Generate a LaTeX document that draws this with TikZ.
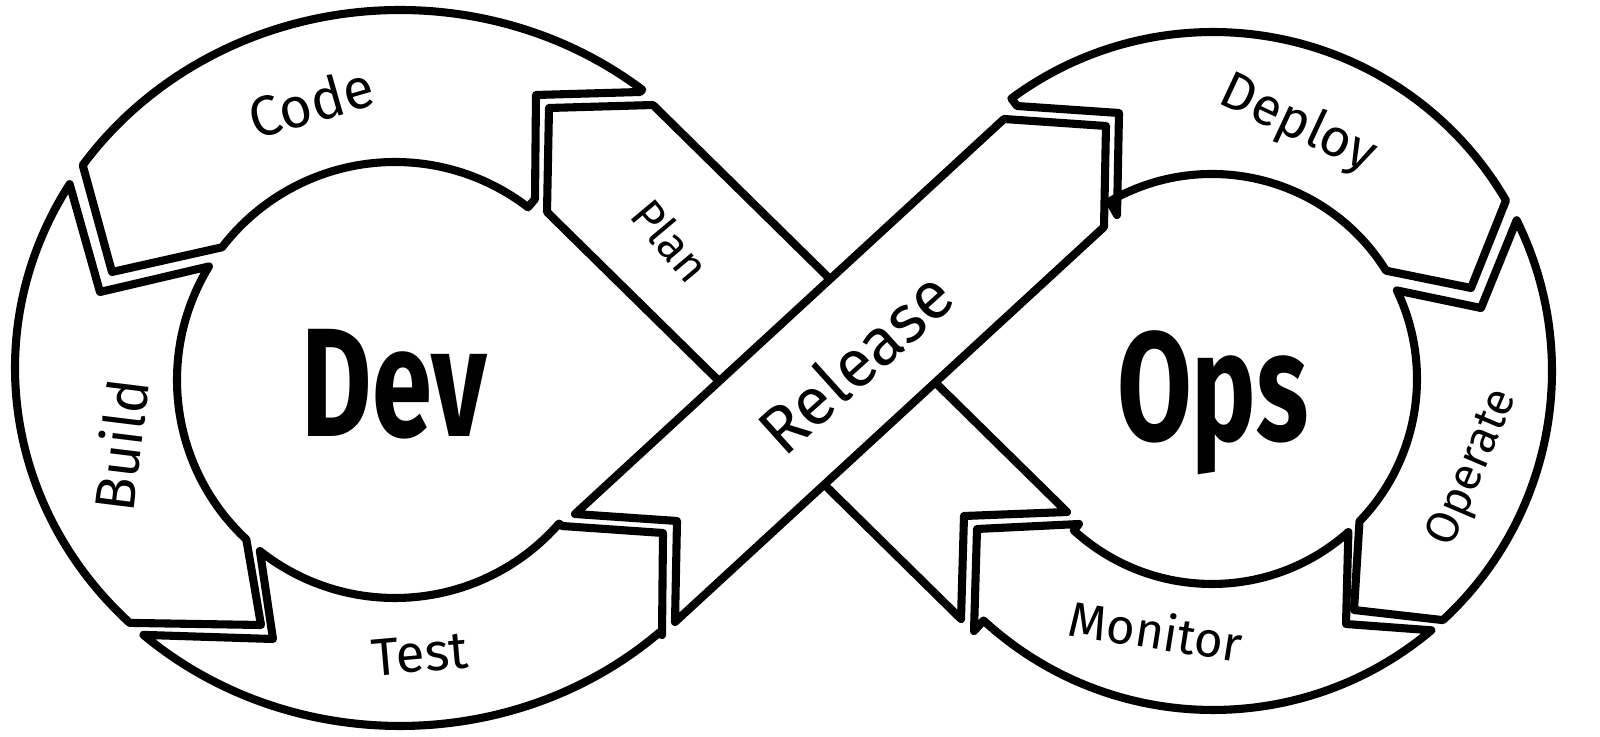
\documentclass[tikz,border=0pt]{standalone}
\usepackage{fontspec}
\setmainfont{Fira Sans}
\usetikzlibrary{calc}
\begin{document}
\begin{tikzpicture}[x=0.01cm, y=-0.01cm,
  band/.style={draw, line width=2.3pt, line join=round, fill=white},
  lbl/.style={inner sep=0pt, font=\fontsize{#1}{#1}\selectfont},
  big/.style={inner sep=0pt, anchor=base, font=\fontsize{44}{44}\selectfont\bfseries}
]
\useasboundingbox (0,0) rectangle (1600,737);
\coordinate (devO) at (400,368);
\coordinate (devI) at (395,380);
\coordinate (opsO) at (1213,371);
\coordinate (opsI) at (1212,379);

% the two diagonal arrows, Release on top
\draw[band] (961,619) -- (547,212) -- (549,108) -- (653,105) -- (1067,512) -- (964,516) -- cycle;
\draw[band] (575,514) -- (1004,119) -- (1106,126) -- (1104,227) -- (675,622) -- (677,521) -- cycle;

% Dev loop
\draw[band] ($(devO)+(-51:385 and 358)$) arc[start angle=-51, end angle=-145.5, x radius=385, y radius=358]
  -- (112,272) -- ($(devI)+(-142.5:218)$) arc[start angle=-142.5, end angle=-52.4, radius=218]
  -- (535,199) -- (536,95) -- (640,92) -- cycle;
\draw[band] ($(devO)+(-149.1:385 and 358)$) arc[start angle=-149.1, end angle=-225.4, x radius=385, y radius=358]
  -- (261,625) -- ($(devI)+(-227:218)$) arc[start angle=-227, end angle=-148.6, radius=218]
  -- (100,292) -- cycle;
\draw[band] ($(devO)+(131.8:385 and 358)$) arc[start angle=131.8, end angle=47.6, x radius=385, y radius=358]
  -- (662,635) -- (663,533) -- (562,526) -- ($(devI)+(41.2:218)$) arc[start angle=41.2, end angle=128.3, radius=218]
  -- (273,639) -- cycle;

% Ops loop
\draw[band] ($(opsO)+(-126.5:339)$) arc[start angle=-126.5, end angle=-30.2, radius=339]
  -- (1471,288) -- ($(opsI)+(-31.9:205)$) arc[start angle=-31.9, end angle=-120, radius=205]
  -- (1117,215) -- (1119,113) -- (1017,106) -- cycle;
\draw[band] ($(opsO)+(-26.4:339)$) arc[start angle=-26.4, end angle=47.3, radius=339]
  -- (1354,610) -- ($(opsI)+(44:205)$) arc[start angle=44, end angle=-25.6, radius=205]
  -- (1481,308) -- cycle;
\draw[band] ($(opsO)+(49.9:339)$) arc[start angle=49.9, end angle=132.6, radius=339]
  -- (974,631) -- (977,529) -- (1079,524) -- ($(opsI)+(132.4:205)$) arc[start angle=132.4, end angle=48.3, radius=205]
  -- (1346,624) -- cycle;

% labels
\node[lbl=16, rotate=16] (code) at (311,102) {Code};
\node[lbl=16, rotate=83] (build) at (120,445) {Build};
\node[lbl=15, rotate=5] (test) at (420,654) {Test};
\node[lbl=13, rotate=-50] (plan) at (671,240) {Plan};
\node[lbl=19, rotate=42] (release) at (855,362) {Release};
\node[lbl=15, rotate=-25] (deploy) at (1298,125) {Deploy};
\node[lbl=13, rotate=67] (operate) at (1474,468) {Operate};
\node[lbl=14, rotate=-9] (monitor) at (1156,630) {Monitor};
\node[big] (dev) at (394,437) {\scalebox{0.7}[1]{Dev}};
\node[big] (ops) at (1213,440) {\scalebox{0.7}[1]{Ops}};
\end{tikzpicture}
\end{document}
